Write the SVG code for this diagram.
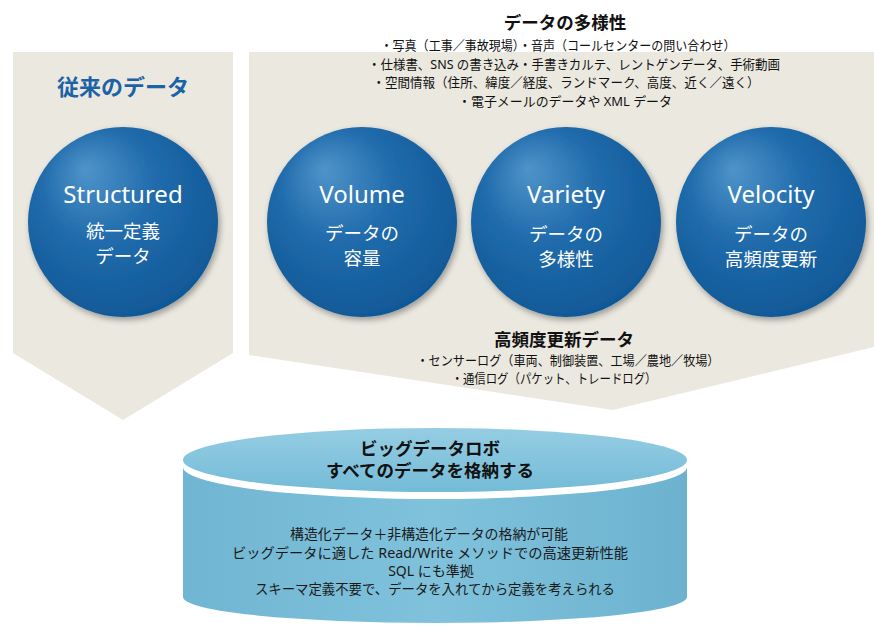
<svg xmlns="http://www.w3.org/2000/svg" width="874" height="627" viewBox="0 0 874 627">
<defs>
<radialGradient id="ball" cx="45%" cy="40%" r="65%" fx="30%" fy="22%">
<stop offset="0" stop-color="#4f94ca"/>
<stop offset="0.45" stop-color="#216cac"/>
<stop offset="1" stop-color="#0f5796"/>
</radialGradient>
<linearGradient id="cylTop" x1="0" y1="0" x2="0" y2="1">
<stop offset="0" stop-color="#95cde3"/>
<stop offset="1" stop-color="#74bbd7"/>
</linearGradient>
<linearGradient id="cylBody" x1="0" y1="0" x2="1" y2="0">
<stop offset="0" stop-color="#70b5d2"/>
<stop offset="0.5" stop-color="#80c2dc"/>
<stop offset="1" stop-color="#6cb2cf"/>
</linearGradient>
<filter id="sh" x="-20%" y="-20%" width="140%" height="140%">
<feGaussianBlur in="SourceAlpha" stdDeviation="3"/>
<feOffset dx="2" dy="3"/>
<feComponentTransfer><feFuncA type="linear" slope="0.35"/></feComponentTransfer>
<feMerge><feMergeNode/><feMergeNode in="SourceGraphic"/></feMerge>
</filter>
</defs>
<style>
.panel{fill:#ebe8e0}
.ball{fill:url(#ball);filter:url(#sh)}
.en{font-family:"Noto Sans","Open Sans","Noto Sans CJK JP",sans-serif;font-size:24px;fill:#fff;text-anchor:middle}
.jw{font-family:"Noto Sans CJK JP","Noto Sans",sans-serif;font-size:18.5px;fill:#fff;text-anchor:middle}
.ttl{font-family:"Noto Sans","Noto Sans CJK JP",sans-serif;font-weight:bold;font-size:17.5px;fill:#111;text-anchor:middle}
.li{font-family:"Noto Sans","Noto Sans CJK JP",sans-serif;font-size:13px;fill:#111;text-anchor:middle}
.cy{font-family:"Noto Sans","Noto Sans CJK JP",sans-serif;font-size:14px;fill:#1a1a1a;text-anchor:middle}
.old{font-family:"Noto Sans CJK JP","Noto Sans",sans-serif;font-weight:bold;font-size:22px;fill:#1b63a6;text-anchor:middle}
</style>
<rect width="874" height="627" fill="#ffffff"/>

<g id="panel-traditional">
<polygon class="panel" points="13,52 233,52 233,353 123,420 13,353"/>
<text class="old" x="123" y="95">従来のデータ</text>
</g>
<g id="panel-3v">
<polygon class="panel" points="249,52 874,52 874,347 613,410 249,355"/>
</g>

<g id="connectors"></g>

<g id="variety-info">
<text class="ttl" x="565" y="29">データの多様性</text>
<text class="li" x="558" y="50" textLength="355" lengthAdjust="spacingAndGlyphs">・写真（工事／事故現場）・音声（コールセンターの問い合わせ）</text>
<text class="li" x="574" y="69" textLength="412" lengthAdjust="spacingAndGlyphs">・仕様書、SNS の書き込み・手書きカルテ、レントゲンデータ、手術動画</text>
<text class="li" x="566" y="87" textLength="387" lengthAdjust="spacingAndGlyphs">・空間情報（住所、緯度／経度、ランドマーク、高度、近く／遠く）</text>
<text class="li" x="565" y="106" textLength="214" lengthAdjust="spacingAndGlyphs">・電子メールのデータや XML データ</text>
</g>

<g id="node-structured">
<circle class="ball" cx="123" cy="222" r="95"/>
<text class="en" x="123" y="203">Structured</text>
<text class="jw" x="123" y="238">統一定義</text>
<text class="jw" x="123" y="263">データ</text>
</g>
<g id="node-volume">
<circle class="ball" cx="362" cy="222" r="95"/>
<text class="en" x="362" y="203">Volume</text>
<text class="jw" x="362" y="240">データの</text>
<text class="jw" x="362" y="265">容量</text>
</g>
<g id="node-variety">
<circle class="ball" cx="566" cy="222" r="95"/>
<text class="en" x="566" y="203">Variety</text>
<text class="jw" x="566" y="241">データの</text>
<text class="jw" x="566" y="266">多様性</text>
</g>
<g id="node-velocity">
<circle class="ball" cx="771" cy="222" r="95"/>
<text class="en" x="771" y="203">Velocity</text>
<text class="jw" x="771" y="241">データの</text>
<text class="jw" x="771" y="266">高頻度更新</text>
</g>

<g id="velocity-info">
<text class="ttl" x="564" y="346">高頻度更新データ</text>
<text class="li" x="568" y="365" textLength="303" lengthAdjust="spacingAndGlyphs">・センサーログ（車両、制御装置、工場／農地／牧場）</text>
<text class="li" x="554" y="383" textLength="205" lengthAdjust="spacingAndGlyphs">・通信ログ（パケット、トレードログ）</text>
</g>

<g id="node-bigdata-robo">
<path d="M183,467 A252,32 0 0 0 687,467 L687,597 A252,26 0 0 1 183,597 Z" fill="url(#cylBody)"/>
<ellipse cx="435" cy="460" rx="252" ry="32" fill="url(#cylTop)"/>
<text class="ttl" x="430" y="455">ビッグデータロボ</text>
<text class="ttl" x="430" y="477">すべてのデータを格納する</text>
<text class="cy" x="429" y="539" textLength="278" lengthAdjust="spacingAndGlyphs">構造化データ＋非構造化データの格納が可能</text>
<text class="cy" x="430" y="558" textLength="396" lengthAdjust="spacingAndGlyphs">ビッグデータに適した Read/Write メソッドでの高速更新性能</text>
<text class="cy" x="431" y="576">SQL にも準拠</text>
<text class="cy" x="435" y="594" textLength="360" lengthAdjust="spacingAndGlyphs">スキーマ定義不要で、データを入れてから定義を考えられる</text>
</g>
</svg>
